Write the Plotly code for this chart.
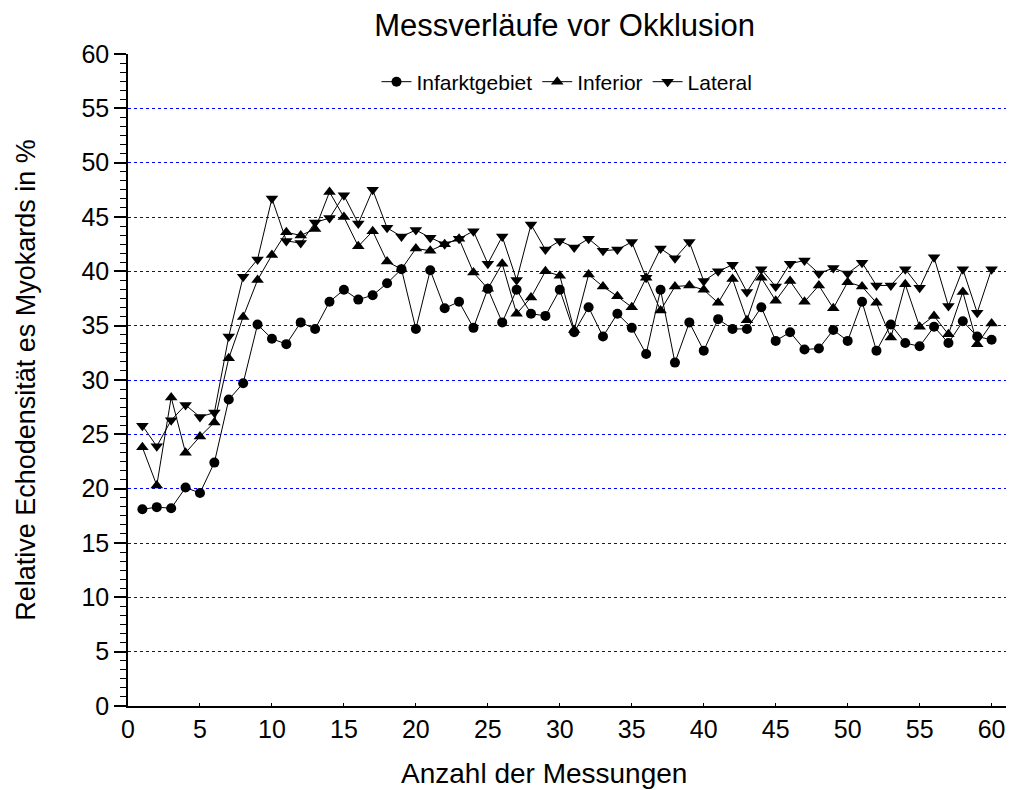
import plotly.graph_objects as go

x_vals = list(range(1, 61))

infarktgebiet = [18.1, 18.3, 18.2, 20.1, 19.6, 22.4, 28.2, 29.7, 35.1, 33.8,
                 33.3, 35.3, 34.7, 37.2, 38.3, 37.4, 37.8, 38.9, 40.2, 34.7,
                 40.1, 36.6, 37.2, 34.8, 38.4, 35.3, 38.3, 36.1, 35.9, 38.3,
                 34.4, 36.7, 34.0, 36.1, 34.8, 32.4, 38.3, 31.6, 35.3, 32.7,
                 35.6, 34.7, 34.7, 36.7, 33.6, 34.4, 32.8, 32.9, 34.6, 33.6,
                 37.2, 32.7, 35.1, 33.4, 33.1, 34.9, 33.4, 35.4, 34.0, 33.7]

inferior = [23.8, 20.3, 28.4, 23.3, 24.8, 26.1, 32.0, 35.8, 39.2, 41.5,
            43.6, 43.3, 43.9, 47.3, 45.0, 42.3, 43.7, 40.9, 40.2, 42.1,
            41.9, 42.5, 43.0, 39.9, 38.4, 40.7, 36.1, 37.6, 40.0, 39.6,
            34.6, 39.7, 38.6, 37.7, 36.7, 39.4, 36.4, 38.6, 38.7, 38.3,
            37.1, 39.3, 35.5, 39.4, 37.3, 39.1, 37.2, 38.7, 36.6, 39.0,
            38.6, 37.1, 33.9, 38.8, 34.9, 35.9, 34.2, 38.1, 33.3, 35.2]

lateral = [25.8, 23.9, 26.3, 27.7, 26.6, 27.0, 34.0, 39.5, 41.1, 46.7,
           42.8, 42.6, 44.5, 44.9, 47.0, 44.4, 47.5, 44.0, 43.2, 43.8,
           43.1, 42.5, 43.0, 43.7, 40.7, 43.2, 39.2, 44.3, 42.0, 42.8,
           42.2, 43.0, 41.9, 42.0, 42.7, 39.4, 42.1, 41.2, 42.7, 39.1,
           40.0, 40.6, 38.1, 40.2, 38.6, 40.7, 41.0, 39.8, 40.3, 39.8,
           40.8, 38.7, 38.7, 40.2, 38.5, 41.3, 36.8, 40.2, 36.2, 40.2]

series = [
    ("Infarktgebiet", infarktgebiet, "circle", 10),
    ("Inferior", inferior, "triangle-up", 11),
    ("Lateral", lateral, "triangle-down", 11),
]

fig = go.Figure()
for name, vals, sym, size in series:
    fig.add_trace(go.Scatter(
        x=x_vals, y=vals, name=name, mode="lines+markers",
        line=dict(color="black", width=1),
        marker=dict(symbol=sym, size=size, color="black"),
    ))

font_main = "Liberation Sans, Arial, sans-serif"

fig.update_layout(
    width=1010, height=790,
    margin=dict(l=128, r=4, t=54, b=84),
    paper_bgcolor="white", plot_bgcolor="white",
    font=dict(family=font_main, color="black"),
    title=dict(text="Messverläufe vor Okklusion", x=0.559, xanchor="center",
               y=0.968, yanchor="middle", font=dict(size=31, color="black")),
    showlegend=True,
    legend=dict(orientation="h", x=0.5, xanchor="center", y=0.957, yanchor="middle",
                font=dict(size=21, color="black"), bgcolor="rgba(0,0,0,0)",
                traceorder="normal"),
    xaxis=dict(
        range=[0, 61], tickvals=list(range(0, 61, 5)),
        ticks="inside", ticklen=3, tickcolor="black",
        showline=True, linecolor="black", linewidth=1.5,
        showgrid=False, zeroline=False, automargin=False,
        tickfont=dict(size=25),
    ),
    yaxis=dict(
        range=[0, 60], tickvals=list(range(0, 61, 5)),
        ticks="outside", ticklen=12, tickwidth=1.5, tickcolor="black",
        showline=True, linecolor="black", linewidth=1.5,
        showgrid=True, gridcolor="#0000ff", griddash="dot", gridwidth=1,
        zeroline=False, automargin=False,
        minor=dict(tick0=0, dtick=5 / 6, ticks="outside", ticklen=6,
                   tickcolor="black", tickwidth=1, showgrid=False),
        tickfont=dict(size=25),
        title=dict(text="Relative Echodensität es Myokards in %", font=dict(size=27), standoff=38),
    ),
    annotations=[dict(
        text="Anzahl der Messungen", xref="paper", yref="paper",
        x=0.474, y=-0.103, xanchor="center", yanchor="middle",
        showarrow=False, font=dict(size=28, color="black"),
    )],
)

fig.write_html("out.html")
